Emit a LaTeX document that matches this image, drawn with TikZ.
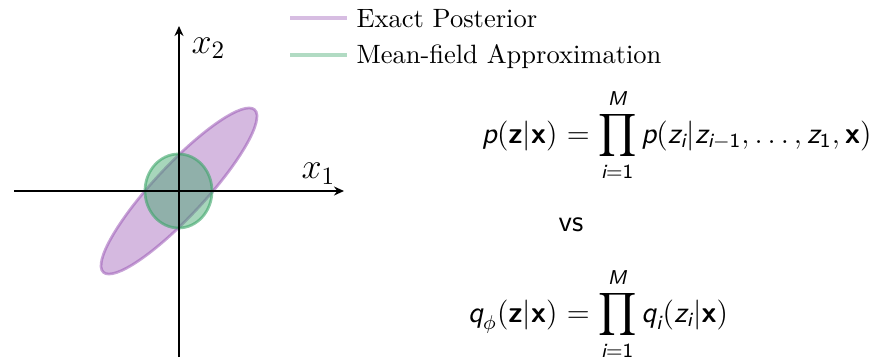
\documentclass[tikz,border=0pt]{standalone}
\usepackage{amsmath}
\usetikzlibrary{arrows.meta}
\newcommand\SV[1]{\text{\sffamily\itshape #1}}
\newcommand\SB[1]{\text{\sffamily\bfseries #1}}
\newcommand\SN[1]{\text{\sffamily #1}}
\definecolor{postc}{RGB}{155,89,182}
\definecolor{mfc}{RGB}{60,165,105}
\tikzset{
  axis/.style={line width=0.6pt,-{Stealth[length=4pt,width=3.6pt]}},
  post/.style={draw=postc,draw opacity=0.55,fill=postc,fill opacity=0.42,line width=1.1pt},
  mf/.style={draw=mfc,draw opacity=0.6,fill=mfc,fill opacity=0.45,line width=1.1pt},
  legline/.style={line width=1.5pt,opacity=0.4},
  legtext/.style={font=\fontsize{10.6}{12}\selectfont,inner sep=0pt},
  eq/.style={font=\large,inner sep=0pt}
}
\begin{document}
\begin{tikzpicture}[x=0.4pt,y=-0.4pt]
\useasboundingbox (0,0) rectangle (875,360);
% distributions
\draw[post,shift={(179,191)},rotate=47] (0,0) ellipse [x radius=111,y radius=25.5];
\draw[mf] (178.5,191) ellipse [x radius=33.5,y radius=37];
% axes
\coordinate (xs) at (14,191);
\coordinate (xe) at (344,191);
\coordinate (ys) at (179,357);
\coordinate (ye) at (179,26);
\draw[axis] (xs) -- (xe);
\draw[axis] (ys) -- (ye);
\node[font=\Large,anchor=base west,inner sep=0pt] (lx1) at (301,179) {$x_1$};
\node[font=\Large,anchor=base west,inner sep=0pt] (lx2) at (191,53) {$x_2$};
% legend
\coordinate (la1) at (290,18);
\coordinate (lb1) at (347,18);
\coordinate (la2) at (290,55);
\coordinate (lb2) at (347,55);
\draw[legline,postc] (la1) -- (lb1);
\draw[legline,mfc] (la2) -- (lb2);
\node[legtext,anchor=base west] (t1) at (356,27) {Exact Posterior};
\node[legtext,anchor=base west] (t2) at (356,63) {Mean-field Approximation};
% equations
\node[eq,anchor=base east] (e1l) at (558,143) {$\SV{p}(\SB{z}|\SB{x})$};
\node[eq,anchor=base west] (e1r) at (558,143) {${}=\displaystyle\prod_{\SV{i}=\SN{1}}^{\SV{M}} \SV{p}(\SV{z}_{\SV{i}}|\SV{z}_{\SV{i}-\SN{1}},\ldots,\SV{z}_{\SN{1}},\SB{x})$};
\node[eq,font=\large\sffamily,inner sep=0pt] (vs) at (571,225) {vs};
\node[eq,anchor=base east] (e2l) at (558,322) {$\SV{q}_{\phi}(\SB{z}|\SB{x})$};
\node[eq,anchor=base west] (e2r) at (558,322) {${}=\displaystyle\prod_{\SV{i}=\SN{1}}^{\SV{M}} \SV{q}_{\SV{i}}(\SV{z}_{\SV{i}}|\SB{x})$};
\end{tikzpicture}
\end{document}
